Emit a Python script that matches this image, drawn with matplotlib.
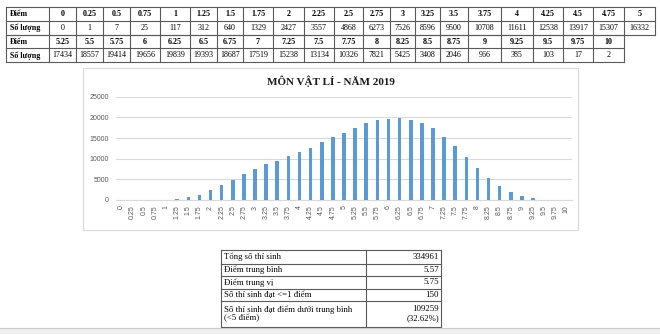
import matplotlib
matplotlib.use("Agg")
import matplotlib.pyplot as plt
import numpy as np

# Score distribution, Physics 2019
scores = [0, 0.25, 0.5, 0.75, 1, 1.25, 1.5, 1.75, 2, 2.25, 2.5, 2.75, 3, 3.25,
          3.5, 3.75, 4, 4.25, 4.5, 4.75, 5, 5.25, 5.5, 5.75, 6, 6.25, 6.5, 6.75,
          7, 7.25, 7.5, 7.75, 8, 8.25, 8.5, 8.75, 9, 9.25, 9.5, 9.75, 10]
counts = [0, 1, 7, 25, 117, 312, 640, 1329, 2427, 3557, 4868, 6273, 7526, 8596,
          9500, 10708, 11611, 12538, 13917, 15307, 16332, 17434, 18557, 19414,
          19656, 19839, 19393, 18687, 17519, 15238, 13134, 10326, 7821, 5425,
          3408, 2046, 966, 385, 103, 17, 2]
y_ticks = [0, 5000, 10000, 15000, 20000, 25000]
title = "MÔN VẬT LÍ - NĂM 2019"

stat_labels = ["Tổng số thí sinh", "Điểm trung bình", "Điểm trung vị",
               "Số thí sinh đạt <=1 điểm",
               "Số thí sinh đạt điểm dưới trung bình\n(<5 điểm)"]
stat_values = ["334961", "5.57", "5.75", "150", "109259\n(32.62%)"]

W, H = 660, 334
SERIF = "Liberation Serif"
SANS = "Liberation Sans"
BORDER = "#5a5a5a"

fig = plt.figure(figsize=(W / 100, H / 100), dpi=100)
bg = fig.add_axes([0, 0, 1, 1])
bg.set_xlim(0, W)
bg.set_ylim(H, 0)
bg.axis("off")


def fmt(v):
    return f"{v:g}"


# ---- top table: two bands of score / count rows ----
col_edges = [6, 49, 76, 103, 130, 160, 190, 217, 243, 273, 304, 334, 363, 390,
             415, 440, 468, 501, 533, 563, 593, 624, 655]
row_edges = [7, 20.8, 34.6, 48.4, 62.2]
split = 21
TFS = 5.8
bands = [(scores[:split], counts[:split]), (scores[split:], counts[split:])]
for b, (sc, ct) in enumerate(bands):
    ncols = len(sc) + 1
    y0, y1, y2 = row_edges[2 * b], row_edges[2 * b + 1], row_edges[2 * b + 2]
    x_right = col_edges[ncols]
    for yy in (y0, y1, y2):
        bg.plot([col_edges[0], x_right], [yy, yy], color=BORDER, lw=0.8)
    for xe in col_edges[:ncols + 1]:
        bg.plot([xe, xe], [y0, y2], color=BORDER, lw=0.8)
    bg.text(col_edges[0] + 4, (y0 + y1) / 2, "Điểm", family=SERIF,
            fontsize=TFS, fontweight="bold", ha="left", va="center")
    bg.text(col_edges[0] + 4, (y1 + y2) / 2, "Số lượng", family=SERIF,
            fontsize=TFS, fontweight="bold", ha="left", va="center")
    for i, (s, c) in enumerate(zip(sc, ct)):
        xc = (col_edges[i + 1] + col_edges[i + 2]) / 2
        bg.text(xc, (y0 + y1) / 2, fmt(s), family=SERIF, fontsize=TFS,
                fontweight="bold", ha="center", va="center")
        bg.text(xc, (y1 + y2) / 2, str(c), family=SERIF, fontsize=TFS,
                ha="center", va="center")

# ---- chart frame ----
bg.add_patch(plt.Rectangle((83, 68), 495, 161.5, facecolor="white",
                           edgecolor="#d9d9d9", lw=0.8))
bg.text(331, 81, title, family=SERIF, fontsize=8, fontweight="bold",
        ha="center", va="center", color="#1a1a1a")

# ---- bar chart ----
ax_l, ax_r, ax_b, ax_t = 116, 572, 200, 96.7
ax = fig.add_axes([ax_l / W, 1 - ax_b / H, (ax_r - ax_l) / W, (ax_b - ax_t) / H])
ax.patch.set_alpha(0)
x = np.arange(len(scores))
ax.bar(x, counts, width=0.32, color="#5b9bd5", zorder=3)
ax.set_xlim(-0.5, len(scores) - 0.5)
ax.set_ylim(0, 25000)
ax.set_yticks(y_ticks)
ax.set_yticklabels([str(t) for t in y_ticks], family=SANS, fontsize=5,
                   color="#595959")
ax.set_xticks(x)
ax.set_xticklabels([fmt(s) for s in scores], family=SANS, fontsize=5,
                   color="#595959", rotation=90)
ax.tick_params(axis="both", length=0)
ax.tick_params(axis="y", pad=5)
ax.tick_params(axis="x", pad=4)
ax.grid(axis="y", color="#d9d9d9", lw=0.8, zorder=0)
for side in ("left", "right", "top"):
    ax.spines[side].set_visible(False)
ax.spines["bottom"].set_color("#d9d9d9")
ax.spines["bottom"].set_linewidth(0.8)

# ---- summary table ----
sx = [221, 366, 441]
sy = [250, 264, 276.3, 288.6, 301, 326.5]
for yy in sy:
    bg.plot([sx[0], sx[2]], [yy, yy], color=BORDER, lw=0.8)
for xx in sx:
    bg.plot([xx, xx], [sy[0], sy[-1]], color=BORDER, lw=0.8)
for i, (lab, val) in enumerate(zip(stat_labels, stat_values)):
    yc = (sy[i] + sy[i + 1]) / 2
    bg.text(sx[0] + 3, yc, lab, family=SERIF, fontsize=6.3, ha="left",
            va="center", linespacing=1.1)
    bg.text(sx[2] - 2, yc, val, family=SERIF, fontsize=6.3, ha="right",
            va="center", linespacing=1.1, multialignment="right")

# ---- status bar ----
bg.add_patch(plt.Rectangle((0, 327.5), W, 7, facecolor="#f0f0f0",
                           edgecolor="none"))
bg.plot([0, W], [327.5, 327.5], color="#c8c8c8", lw=0.8)

fig.savefig("out.png", dpi=100)
